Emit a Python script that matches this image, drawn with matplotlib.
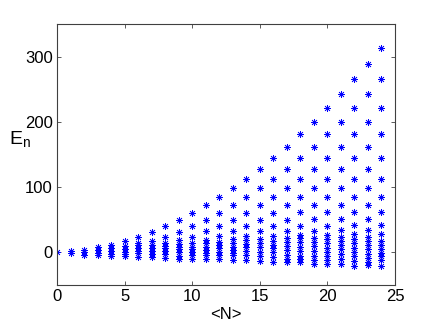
import matplotlib

matplotlib.use("Agg")
import matplotlib.pyplot as plt

plt.rcParams["font.family"] = ["Liberation Sans", "DejaVu Sans"]
plt.rcParams["mathtext.fontset"] = "custom"
plt.rcParams["mathtext.rm"] = "Liberation Sans"

# Energy levels, one list per <N> column.
levels = {
    0: [0],
    1: [1.5, -1],
    2: [4, 0.5, -3.5],
    3: [7.5, 3, -1, -4.5],
    4: [12, 6, 1.5, -2, -5],
    5: [17.5, 10, 5, 1, -2.5, -5.5],
    6: [24, 15, 11, 6, 2.5, -1.5, -6.5],
    7: [31.5, 18, 11, 6, 2, -2.5, -7.7],
    8: [40.5, 24, 15, 10, 6, 2, -2.5, -8],
    9: [49.5, 31.5, 18.5, 13, 8.5, 4.5, 0, -5, -10],
    10: [60.5, 40.5, 24, 14, 8.5, 4.5, 1, -4, -9.5],
    11: [72, 49.5, 32, 19, 13.7, 8.6, 3.5, -1, -4.5, -9.5],
    12: [84.5, 60.5, 41, 25, 16.5, 11, 6, 1, -4, -10.5],
    13: [98, 72, 49.5, 32.5, 20, 14, 8.5, 3.5, -1.5, -4.5, -11],
    14: [112.5, 84.5, 60.5, 40.5, 25, 19, 13, 7.5, 2.5, -4, -12],
    15: [128, 98, 72, 49.5, 32.5, 20, 14, 7.7, 1, -5.5, -13],
    16: [145, 112.5, 84.5, 61, 40.5, 25, 18, 12, 6, 0, -6.5, -14],
    17: [162, 128, 98, 72, 49.5, 32.5, 22, 16, 9.5, 3, -4, -10, -15],
    18: [181, 145, 112.5, 84.5, 61.5, 41, 26.5, 21.5, 15.5, 8.5, 2, -5.5, -10, -15.5],
    19: [200, 162, 128, 98.5, 72.5, 51, 33, 22.5, 16.5, 9.7, 2, -5.5, -11, -17.5],
    20: [221, 181, 145, 113, 84.5, 61.5, 41, 26.5, 20.5, 14, 7, 1, -5.5, -12, -18.5],
    21: [242, 200, 162, 128, 98.5, 72.5, 51, 34, 24, 17.5, 11, 4.5, -3, -10, -18.5],
    22: [265, 221, 181, 145, 113, 84.5, 62, 42, 27.5, 20.5, 14, 7, 1, -5.5, -13, -20.5],
    23: [289, 242, 200, 162, 128, 98.5, 72.5, 51, 34, 24, 17.5, 11, 4.5, -2.5, -9, -14, -20],
    24: [313, 265, 221, 181, 145, 113, 85, 62, 42, 28, 18, 11, 5, -0.5, -5.7, -11.8, -21],
}

x_ticks = [0, 5, 10, 15, 20, 25]
y_ticks = [0, 100, 200, 300]

xs = []
ys = []
for n, vals in levels.items():
    xs.extend([n] * len(vals))
    ys.extend(vals)

fig = plt.figure(figsize=(4.36, 3.28), dpi=100)
ax = fig.add_axes([57 / 436, 1 - 285 / 328, 338 / 436, 261 / 328])

ax.plot(xs, ys, linestyle="none", marker=(8, 2, 0), markersize=5,
        markeredgewidth=0.5, color="blue")

ax.set_xlim(0, 25)
ax.set_ylim(-50, 350)
ax.set_xticks(x_ticks)
ax.set_yticks(y_ticks)
ax.tick_params(direction="in", top=True, right=True, length=3, pad=3,
               labelsize=12, width=0.6, colors="0.25", labelcolor="black")
for s in ax.spines.values():
    s.set_color("0.25")
    s.set_linewidth(0.8)

ax.set_xlabel("<N>", fontsize=12, labelpad=2)
ax.set_ylabel(r"$\mathregular{E_n}$", fontsize=14, rotation=0)
ax.yaxis.set_label_coords(-0.11, 0.52)

fig.savefig("out.png", dpi=100)
